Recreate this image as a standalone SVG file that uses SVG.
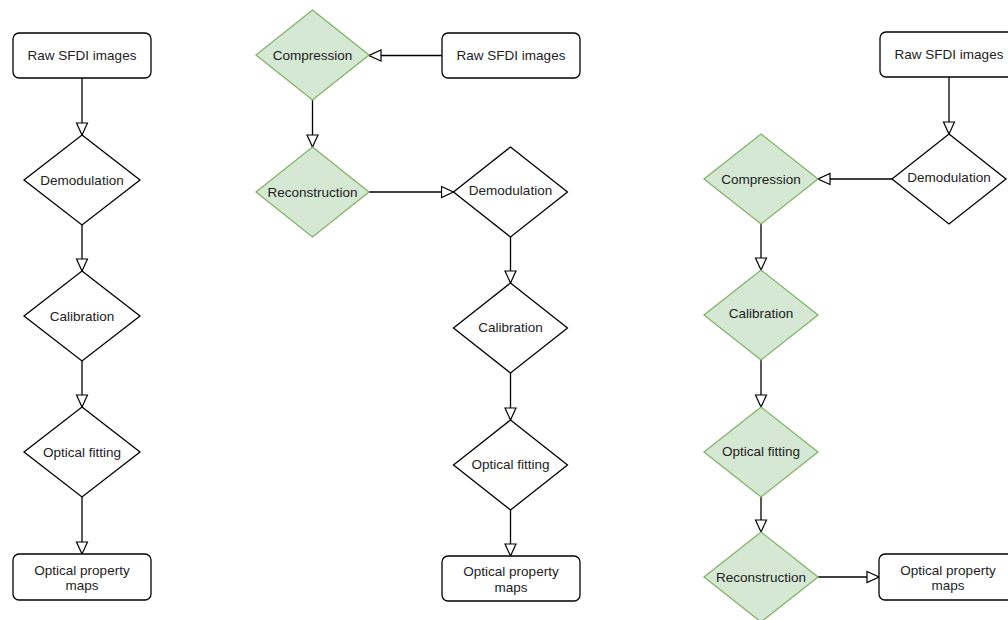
<svg xmlns="http://www.w3.org/2000/svg" width="1008" height="620" viewBox="0 0 1008 620">
<style>
.box{fill:#fff;stroke:#000;stroke-width:1.3}
.dia{fill:#fff;stroke:#000;stroke-width:1.3}
.grn{fill:#d5e8d4;stroke:#82b366;stroke-width:1.3}
.lbl{font-family:"Liberation Sans",Arial,sans-serif;font-size:13.5px;fill:#222;text-anchor:middle}
.edge{fill:none;stroke:#000;stroke-width:1.3;marker-end:url(#tri)}
</style>
<defs>
<marker id="tri" markerUnits="userSpaceOnUse" markerWidth="14" markerHeight="14" refX="12" refY="6" orient="auto" viewBox="-1 -1 14 14">
<path d="M0,0.5 L12,6 L0,11.5 Z" fill="#fff" stroke="#000" stroke-width="1.2"/>
</marker>
</defs>
<rect width="1008" height="620" fill="#fff"/>
<g id="connectors">
<path class="edge" d="M82,78 V135"/>
<path class="edge" d="M82,225 V271"/>
<path class="edge" d="M82,361 V407"/>
<path class="edge" d="M82,497 V554"/>
<path class="edge" d="M442,55.5 H369"/>
<path class="edge" d="M312.5,100 V147"/>
<path class="edge" d="M369,192 H453.5"/>
<path class="edge" d="M510.5,237 V283"/>
<path class="edge" d="M510.5,373 V420"/>
<path class="edge" d="M510.5,510 V556"/>
<path class="edge" d="M949,77 V134"/>
<path class="edge" d="M892,179 H818"/>
<path class="edge" d="M761,224 V270"/>
<path class="edge" d="M761,360 V407"/>
<path class="edge" d="M761,497 V532"/>
<path class="edge" d="M818,577 H879"/>
</g>
<g id="raw1"><rect class="box" x="13" y="33" width="138" height="45" rx="6"/><text class="lbl" x="82" y="60">Raw SFDI images</text></g>
<g id="demod1"><polygon class="dia" points="82,135 140,180 82,225 24,180"/><text class="lbl" x="82" y="184.5">Demodulation</text></g>
<g id="calib1"><polygon class="dia" points="82,271 140,316 82,361 24,316"/><text class="lbl" x="82" y="320.5">Calibration</text></g>
<g id="fit1"><polygon class="dia" points="82,407 140,452 82,497 24,452"/><text class="lbl" x="82" y="456.5">Optical fitting</text></g>
<g id="maps1"><rect class="box" x="13" y="554" width="138" height="46" rx="6"/><text class="lbl" x="82" y="574.5">Optical property</text><text class="lbl" x="82" y="590">maps</text></g>

<g id="comp2"><polygon class="grn" points="312.5,10 369,55 312.5,100 256,55"/><text class="lbl" x="312.5" y="59.5">Compression</text></g>
<g id="raw2"><rect class="box" x="442" y="33" width="138" height="45" rx="6"/><text class="lbl" x="511" y="60">Raw SFDI images</text></g>
<g id="recon2"><polygon class="grn" points="312.5,147 369,192 312.5,237 256,192"/><text class="lbl" x="312.5" y="196.5">Reconstruction</text></g>
<g id="demod2"><polygon class="dia" points="510.5,147 567.5,192 510.5,237 453.5,192"/><text class="lbl" x="510.5" y="195">Demodulation</text></g>
<g id="calib2"><polygon class="dia" points="510.5,283 567.5,328 510.5,373 453.5,328"/><text class="lbl" x="510.5" y="331.5">Calibration</text></g>
<g id="fit2"><polygon class="dia" points="510.5,420 567.5,465 510.5,510 453.5,465"/><text class="lbl" x="510.5" y="469">Optical fitting</text></g>
<g id="maps2"><rect class="box" x="442" y="556" width="138" height="45" rx="6"/><text class="lbl" x="511" y="576">Optical property</text><text class="lbl" x="511" y="591.5">maps</text></g>

<g id="raw3"><rect class="box" x="880" y="32" width="138" height="45" rx="6"/><text class="lbl" x="949" y="59">Raw SFDI images</text></g>
<g id="demod3"><polygon class="dia" points="949,134 1006,179 949,224 892,179"/><text class="lbl" x="949" y="182">Demodulation</text></g>
<g id="comp3"><polygon class="grn" points="761,134 818,179 761,224 704,179"/><text class="lbl" x="761" y="183.5">Compression</text></g>
<g id="calib3"><polygon class="grn" points="761,270 818,315 761,360 704,315"/><text class="lbl" x="761" y="318">Calibration</text></g>
<g id="fit3"><polygon class="grn" points="761,407 818,452 761,497 704,452"/><text class="lbl" x="761" y="456">Optical fitting</text></g>
<g id="recon3"><polygon class="grn" points="761,532 818,577 761,622 704,577"/><text class="lbl" x="761" y="581.5">Reconstruction</text></g>
<g id="maps3"><rect class="box" x="879" y="554" width="138" height="46" rx="6"/><text class="lbl" x="948" y="574.5">Optical property</text><text class="lbl" x="948" y="590">maps</text></g>
</svg>
